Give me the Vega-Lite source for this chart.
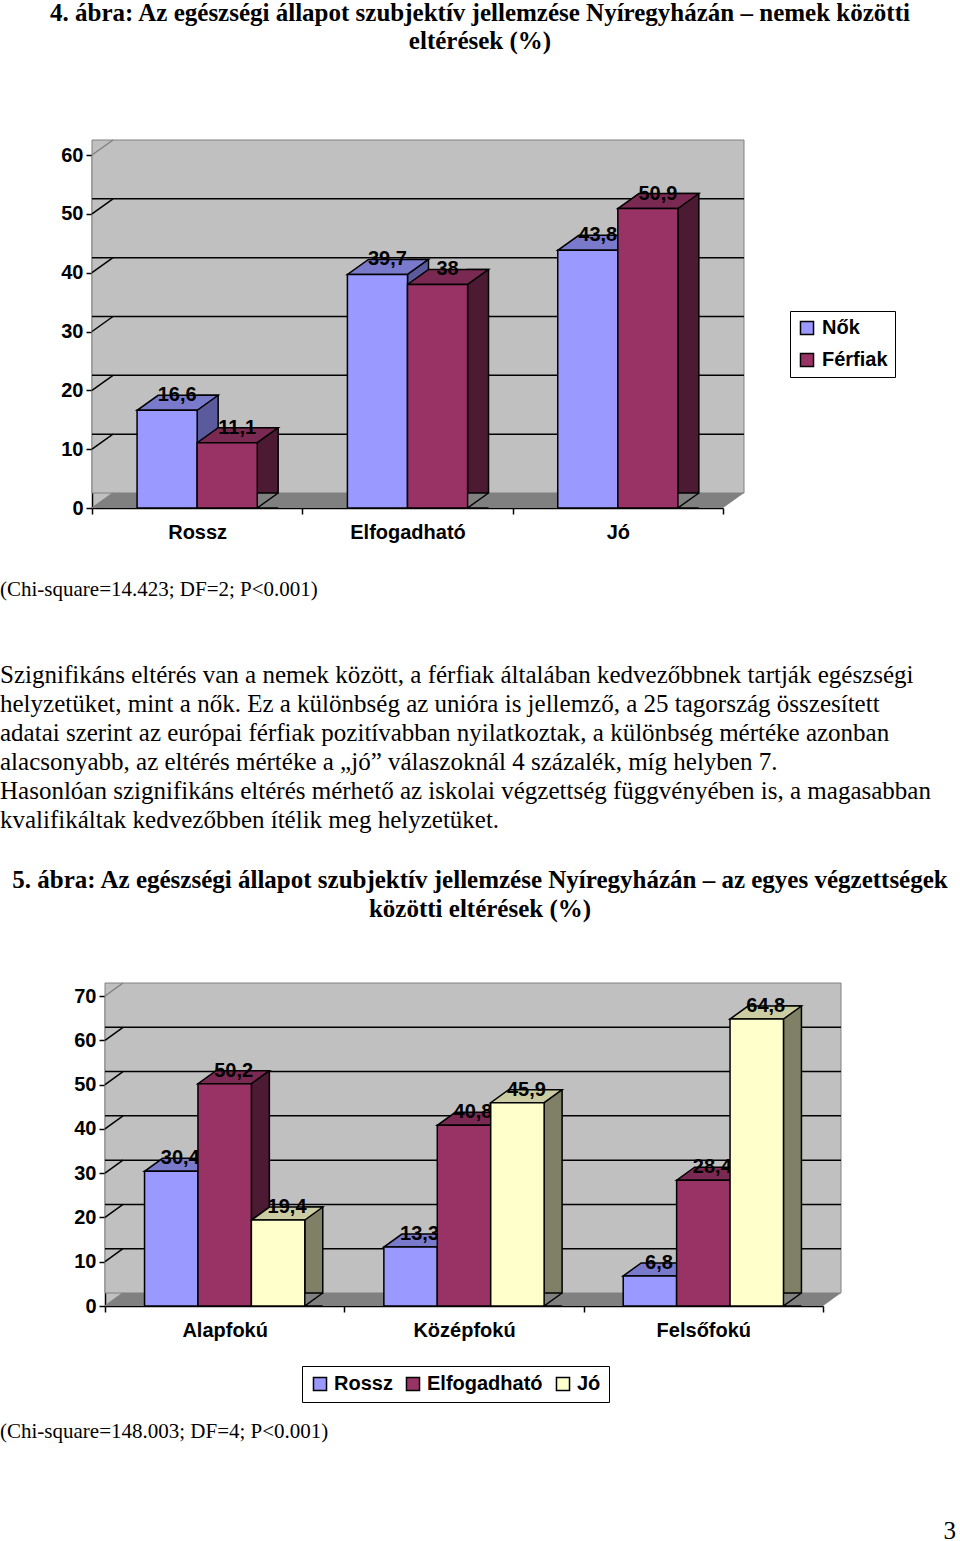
{
  "$schema": "https://vega.github.io/schema/vega-lite/v6.json",
  "background": "white",
  "padding": 0,
  "spacing": 0,
  "bounds": "full",
  "align": "none",
  "resolve": {"scale": {"color": "independent", "xOffset": "independent"}, "legend": {"color": "independent"}},
  "config": {
    "font": "Liberation Sans",
    "view": {"stroke": null},
    "locale": {"number": {"decimal": ",", "thousands": " ", "grouping": [3], "currency": ["", ""]}},
    "axis": {"labelFont": "Liberation Sans", "labelFontSize": 20, "labelFontWeight": "bold", "labelColor": "black", "tickColor": "black", "tickWidth": 1.5, "tickSize": 6, "domainColor": "black", "domainWidth": 1.5, "grid": false},
    "axisX": {"labelAngle": 0, "labelPadding": 8, "tickBand": "extent"},
    "axisY": {"labelPadding": 3}
  },
  "vconcat": [
    {
      "width": 960, "height": 54,
      "data": {"values": [
        {"line": 1, "text": "4. ábra: Az egészségi állapot szubjektív jellemzése Nyíregyházán – nemek közötti"},
        {"line": 2, "text": "eltérések (%)"}
      ]},
      "mark": {"type": "text", "font": "Liberation Serif", "fontSize": 25, "fontWeight": "bold", "baseline": "middle", "align": "center", "color": "black"},
      "encoding": {"y": {"field": "line", "type": "ordinal", "axis": null, "scale": {"padding": 0.4643}}, "text": {"field": "text"}}
    },
    {"width": 960, "height": 82.25, "data": {"values": []}, "mark": "text"},
    {
      "hconcat": [
        {"width": 92, "height": 420, "data": {"values": []}, "mark": "text"},
        {
          "width": 631, "height": 353,
          "view": {"fill": "#c0c0c0", "stroke": null},
          "data": {"values": [
            {"cat": "Rossz", "ser": "Nők", "v": 16.6},
            {"cat": "Rossz", "ser": "Férfiak", "v": 11.1},
            {"cat": "Elfogadható", "ser": "Nők", "v": 39.7},
            {"cat": "Elfogadható", "ser": "Férfiak", "v": 38},
            {"cat": "Jó", "ser": "Nők", "v": 43.8},
            {"cat": "Jó", "ser": "Férfiak", "v": 50.9}
          ]},
          "layer": [
            {
              "data": {"values": [{}]},
              "mark": {"type": "rect", "fill": "#c0c0c0", "stroke": "#808080", "strokeWidth": 1, "xOffset": 21, "x2Offset": 21, "yOffset": -15, "y2Offset": -15},
              "encoding": {
                "y": {"datum": 0, "type": "quantitative", "scale": {"domain": [0, 60], "nice": false}, "axis": {"title": null, "values": [0, 10, 20, 30, 40, 50, 60]}},
                "y2": {"datum": 60}
              }
            },
            {
              "data": {"values": [{"g": 10}, {"g": 20}, {"g": 30}, {"g": 40}, {"g": 50}]},
              "mark": {"type": "rule", "color": "black", "strokeWidth": 1.5, "xOffset": 21, "x2Offset": 21, "yOffset": -15, "y2Offset": -15},
              "encoding": {"y": {"field": "g", "type": "quantitative", "scale": {"domain": [0, 60], "nice": false}, "title": null}}
            },
            {
              "data": {"values": [{"g": 0}, {"g": 10}, {"g": 20}, {"g": 30}, {"g": 40}, {"g": 50}, {"g": 60}]},
              "mark": {"type": "point", "shape": "M0,0L21,-15", "size": 4, "filled": false, "opacity": 1, "strokeWidth": 1.5},
              "encoding": {
                "x": {"datum": "Rossz", "type": "nominal", "bandPosition": 0, "scale": {"domain": ["Rossz", "Elfogadható", "Jó"], "paddingInner": 0, "paddingOuter": 0}, "title": null},
                "y": {"field": "g", "type": "quantitative", "scale": {"domain": [0, 60], "nice": false}, "title": null},
                "stroke": {"condition": {"test": "datum.g % 60 === 0", "value": "#808080"}, "value": "black"}
              }
            },
            {
              "data": {"values": [{}]},
              "mark": {"type": "point", "shape": "M0,0L631,0L652,-15L21,-15Z", "size": 4, "filled": true, "opacity": 1, "fill": "#808080", "strokeWidth": 0},
              "encoding": {
                "x": {"datum": "Rossz", "type": "nominal", "bandPosition": 0, "scale": {"domain": ["Rossz", "Elfogadható", "Jó"], "paddingInner": 0, "paddingOuter": 0}, "title": null},
                "y": {"datum": 0, "type": "quantitative", "scale": {"domain": [0, 60], "nice": false}, "title": null}
              }
            },
            {
              "transform": [{"filter": "datum.ser === 'Nők'"}],
              "mark": {"type": "bar", "width": 21, "xOffset": 10.5, "yOffset": -15, "fill": "#5a5a9c", "stroke": "black", "strokeWidth": 1.5},
              "encoding": {
                "x": {"field": "cat", "type": "nominal", "scale": {"domain": ["Rossz", "Elfogadható", "Jó"], "paddingInner": 0, "paddingOuter": 0}, "title": null},
                "y": {"field": "v", "type": "quantitative", "scale": {"domain": [0, 60], "nice": false}, "title": null}
              }
            },
            {
              "transform": [{"filter": "datum.ser === 'Férfiak'"}],
              "mark": {"type": "bar", "width": 21, "xOffset": 70.5, "yOffset": -15, "fill": "#4d1a33", "stroke": "black", "strokeWidth": 1.5},
              "encoding": {
                "x": {"field": "cat", "type": "nominal", "scale": {"domain": ["Rossz", "Elfogadható", "Jó"], "paddingInner": 0, "paddingOuter": 0}, "title": null},
                "y": {"field": "v", "type": "quantitative", "scale": {"domain": [0, 60], "nice": false}, "title": null}
              }
            },
            {
              "transform": [{"filter": "datum.ser === 'Férfiak'"}],
              "mark": {"type": "point", "shape": "M51,0L30,0L51,-15", "size": 4, "filled": true, "opacity": 1, "fill": "#808080", "stroke": "black", "strokeWidth": 1.5},
              "encoding": {
                "x": {"field": "cat", "type": "nominal", "scale": {"domain": ["Rossz", "Elfogadható", "Jó"], "paddingInner": 0, "paddingOuter": 0}, "title": null},
                "xOffset": {"field": "ser", "type": "nominal", "scale": {"domain": ["Nők", "Férfiak"], "paddingInner": 0, "paddingOuter": 0.75}},
                "y": {"datum": 0, "type": "quantitative", "scale": {"domain": [0, 60], "nice": false}, "title": null}
              }
            },
            {
              "mark": {"type": "point", "shape": "M-30,0L30,0L51,-15L-9,-15Z", "size": 4, "filled": true, "opacity": 1, "stroke": "black", "strokeWidth": 1.5},
              "encoding": {
                "x": {"field": "cat", "type": "nominal", "scale": {"domain": ["Rossz", "Elfogadható", "Jó"], "paddingInner": 0, "paddingOuter": 0}, "title": null},
                "xOffset": {"field": "ser", "type": "nominal", "scale": {"domain": ["Nők", "Férfiak"], "paddingInner": 0, "paddingOuter": 0.75}},
                "y": {"field": "v", "type": "quantitative", "scale": {"domain": [0, 60], "nice": false}, "title": null},
                "fill": {"condition": {"test": "datum.ser === 'Nők'", "value": "#7a7acc"}, "value": "#7a2952"}
              }
            },
            {
              "mark": {"type": "text", "font": "Liberation Sans", "fontSize": 20, "fontWeight": "bold", "dx": 10, "dy": -15, "baseline": "middle", "color": "black"},
              "encoding": {
                "x": {"field": "cat", "type": "nominal", "scale": {"domain": ["Rossz", "Elfogadható", "Jó"], "paddingInner": 0, "paddingOuter": 0}, "title": null},
                "xOffset": {"field": "ser", "type": "nominal", "scale": {"domain": ["Nők", "Férfiak"], "paddingInner": 0, "paddingOuter": 0.75}},
                "y": {"field": "v", "type": "quantitative", "scale": {"domain": [0, 60], "nice": false}, "title": null},
                "text": {"field": "v", "type": "quantitative", "format": ".3~r"}
              }
            },
            {
              "mark": {"type": "bar", "stroke": "black", "strokeWidth": 1.5},
              "encoding": {
                "x": {"field": "cat", "type": "nominal", "scale": {"domain": ["Rossz", "Elfogadható", "Jó"], "paddingInner": 0, "paddingOuter": 0}, "title": null},
                "xOffset": {"field": "ser", "type": "nominal", "scale": {"domain": ["Nők", "Férfiak"], "paddingInner": 0, "paddingOuter": 0.75}},
                "y": {"field": "v", "type": "quantitative", "scale": {"domain": [0, 60], "nice": false}, "title": null},
                "color": {
                  "field": "ser", "type": "nominal",
                  "scale": {"domain": ["Nők", "Férfiak"], "range": ["#9999ff", "#993366"]},
                  "legend": {"title": null, "orient": "none", "direction": "vertical", "legendX": 790, "legendY": 156, "symbolType": "square", "symbolSize": 170, "symbolStrokeColor": "black", "symbolStrokeWidth": 1.5, "symbolOpacity": 1, "labelFont": "Liberation Sans", "labelFontSize": 20, "labelFontWeight": "bold", "labelColor": "black", "labelOffset": 5, "strokeColor": "black", "fillColor": "white", "padding": 7, "rowPadding": 12}
                }
              }
            }
          ]
        }
      ],
      "spacing": 0,
      "bounds": "flush"
    },
    {
      "width": 960, "height": 30,
      "data": {"values": [{"line": 1, "text": "(Chi-square=14.423; DF=2; P<0.001)"}]},
      "mark": {"type": "text", "font": "Liberation Serif", "fontSize": 21, "baseline": "middle", "align": "left", "color": "black"},
      "encoding": {
        "x": {"datum": 0, "type": "quantitative", "scale": {"domain": [0, 1]}, "axis": null},
        "y": {"field": "line", "type": "ordinal", "axis": null},
        "text": {"field": "text"}
      }
    },
    {"width": 960, "height": 54.5, "data": {"values": []}, "mark": "text"},
    {
      "width": 960, "height": 175,
      "data": {"values": [
        {"line": 1, "text": "Szignifikáns eltérés van a nemek között, a férfiak általában kedvezőbbnek tartják egészségi"},
        {"line": 2, "text": "helyzetüket, mint a nők. Ez a különbség az unióra is jellemző, a 25 tagország összesített"},
        {"line": 3, "text": "adatai szerint az európai férfiak pozitívabban nyilatkoztak, a különbség mértéke azonban"},
        {"line": 4, "text": "alacsonyabb, az eltérés mértéke a „jó” válaszoknál 4 százalék, míg helyben 7."},
        {"line": 5, "text": "Hasonlóan szignifikáns eltérés mérhető az iskolai végzettség függvényében is, a magasabban"},
        {"line": 6, "text": "kvalifikáltak kedvezőbben ítélik meg helyzetüket."}
      ]},
      "mark": {"type": "text", "font": "Liberation Serif", "fontSize": 25, "baseline": "middle", "align": "left", "color": "black"},
      "encoding": {
        "x": {"datum": 0, "type": "quantitative", "scale": {"domain": [0, 1]}, "axis": null},
        "y": {"field": "line", "type": "ordinal", "axis": null},
        "text": {"field": "text"}
      }
    },
    {"width": 960, "height": 30, "data": {"values": []}, "mark": "text"},
    {
      "width": 960, "height": 58,
      "data": {"values": [
        {"line": 1, "text": "5. ábra: Az egészségi állapot szubjektív jellemzése Nyíregyházán – az egyes végzettségek"},
        {"line": 2, "text": "közötti eltérések (%)"}
      ]},
      "mark": {"type": "text", "font": "Liberation Serif", "fontSize": 25, "fontWeight": "bold", "baseline": "middle", "align": "center", "color": "black"},
      "encoding": {"y": {"field": "line", "type": "ordinal", "axis": null}, "text": {"field": "text"}}
    },
    {"width": 960, "height": 56.25, "data": {"values": []}, "mark": "text"},
    {
      "hconcat": [
        {"width": 105, "height": 421, "data": {"values": []}, "mark": "text"},
        {
          "width": 718, "height": 310,
          "view": {"fill": "#c0c0c0", "stroke": null},
          "data": {"values": [
            {"cat": "Alapfokú", "ser": "Rossz", "v": 30.4},
            {"cat": "Alapfokú", "ser": "Elfogadható", "v": 50.2},
            {"cat": "Alapfokú", "ser": "Jó", "v": 19.4},
            {"cat": "Középfokú", "ser": "Rossz", "v": 13.3},
            {"cat": "Középfokú", "ser": "Elfogadható", "v": 40.8},
            {"cat": "Középfokú", "ser": "Jó", "v": 45.9},
            {"cat": "Felsőfokú", "ser": "Rossz", "v": 6.8},
            {"cat": "Felsőfokú", "ser": "Elfogadható", "v": 28.4},
            {"cat": "Felsőfokú", "ser": "Jó", "v": 64.8}
          ]},
          "layer": [
            {
              "data": {"values": [{}]},
              "mark": {"type": "rect", "fill": "#c0c0c0", "stroke": "#808080", "strokeWidth": 1, "xOffset": 18, "x2Offset": 18, "yOffset": -13, "y2Offset": -13},
              "encoding": {
                "y": {"datum": 0, "type": "quantitative", "scale": {"domain": [0, 70], "nice": false}, "axis": {"title": null, "values": [0, 10, 20, 30, 40, 50, 60, 70]}},
                "y2": {"datum": 70}
              }
            },
            {
              "data": {"values": [{"g": 10}, {"g": 20}, {"g": 30}, {"g": 40}, {"g": 50}, {"g": 60}]},
              "mark": {"type": "rule", "color": "black", "strokeWidth": 1.5, "xOffset": 18, "x2Offset": 18, "yOffset": -13, "y2Offset": -13},
              "encoding": {"y": {"field": "g", "type": "quantitative", "scale": {"domain": [0, 70], "nice": false}, "title": null}}
            },
            {
              "data": {"values": [{"g": 0}, {"g": 10}, {"g": 20}, {"g": 30}, {"g": 40}, {"g": 50}, {"g": 60}, {"g": 70}]},
              "mark": {"type": "point", "shape": "M0,0L18,-13", "size": 4, "filled": false, "opacity": 1, "strokeWidth": 1.5},
              "encoding": {
                "x": {"datum": "Alapfokú", "type": "nominal", "bandPosition": 0, "scale": {"domain": ["Alapfokú", "Középfokú", "Felsőfokú"], "paddingInner": 0, "paddingOuter": 0}, "title": null},
                "y": {"field": "g", "type": "quantitative", "scale": {"domain": [0, 70], "nice": false}, "title": null},
                "stroke": {"condition": {"test": "datum.g % 70 === 0", "value": "#808080"}, "value": "black"}
              }
            },
            {
              "data": {"values": [{}]},
              "mark": {"type": "point", "shape": "M0,0L718,0L736,-13L18,-13Z", "size": 4, "filled": true, "opacity": 1, "fill": "#808080", "strokeWidth": 0},
              "encoding": {
                "x": {"datum": "Alapfokú", "type": "nominal", "bandPosition": 0, "scale": {"domain": ["Alapfokú", "Középfokú", "Felsőfokú"], "paddingInner": 0, "paddingOuter": 0}, "title": null},
                "y": {"datum": 0, "type": "quantitative", "scale": {"domain": [0, 70], "nice": false}, "title": null}
              }
            },
            {
              "transform": [{"filter": "datum.ser === 'Rossz'"}],
              "mark": {"type": "bar", "width": 18, "xOffset": -17.7, "yOffset": -13, "fill": "#5a5a9c", "stroke": "black", "strokeWidth": 1.5},
              "encoding": {
                "x": {"field": "cat", "type": "nominal", "scale": {"domain": ["Alapfokú", "Középfokú", "Felsőfokú"], "paddingInner": 0, "paddingOuter": 0}, "title": null},
                "y": {"field": "v", "type": "quantitative", "scale": {"domain": [0, 70], "nice": false}, "title": null}
              }
            },
            {
              "transform": [{"filter": "datum.ser === 'Elfogadható'"}],
              "mark": {"type": "bar", "width": 18, "xOffset": 35.7, "yOffset": -13, "fill": "#4d1a33", "stroke": "black", "strokeWidth": 1.5},
              "encoding": {
                "x": {"field": "cat", "type": "nominal", "scale": {"domain": ["Alapfokú", "Középfokú", "Felsőfokú"], "paddingInner": 0, "paddingOuter": 0}, "title": null},
                "y": {"field": "v", "type": "quantitative", "scale": {"domain": [0, 70], "nice": false}, "title": null}
              }
            },
            {
              "transform": [{"filter": "datum.ser === 'Jó'"}],
              "mark": {"type": "bar", "width": 18, "xOffset": 89.1, "yOffset": -13, "fill": "#808066", "stroke": "black", "strokeWidth": 1.5},
              "encoding": {
                "x": {"field": "cat", "type": "nominal", "scale": {"domain": ["Alapfokú", "Középfokú", "Felsőfokú"], "paddingInner": 0, "paddingOuter": 0}, "title": null},
                "y": {"field": "v", "type": "quantitative", "scale": {"domain": [0, 70], "nice": false}, "title": null}
              }
            },
            {
              "transform": [{"filter": "datum.ser === 'Jó'"}],
              "mark": {"type": "point", "shape": "M44.7,0L26.7,0L44.7,-13", "size": 4, "filled": true, "opacity": 1, "fill": "#808080", "stroke": "black", "strokeWidth": 1.5},
              "encoding": {
                "x": {"field": "cat", "type": "nominal", "scale": {"domain": ["Alapfokú", "Középfokú", "Felsőfokú"], "paddingInner": 0, "paddingOuter": 0}, "title": null},
                "xOffset": {"field": "ser", "type": "nominal", "scale": {"domain": ["Rossz", "Elfogadható", "Jó"], "paddingInner": 0, "paddingOuter": 0.74}},
                "y": {"datum": 0, "type": "quantitative", "scale": {"domain": [0, 70], "nice": false}, "title": null}
              }
            },
            {
              "mark": {"type": "point", "shape": "M-26.7,0L26.7,0L44.7,-13L-8.7,-13Z", "size": 4, "filled": true, "opacity": 1, "stroke": "black", "strokeWidth": 1.5},
              "encoding": {
                "x": {"field": "cat", "type": "nominal", "scale": {"domain": ["Alapfokú", "Középfokú", "Felsőfokú"], "paddingInner": 0, "paddingOuter": 0}, "title": null},
                "xOffset": {"field": "ser", "type": "nominal", "scale": {"domain": ["Rossz", "Elfogadható", "Jó"], "paddingInner": 0, "paddingOuter": 0.74}},
                "y": {"field": "v", "type": "quantitative", "scale": {"domain": [0, 70], "nice": false}, "title": null},
                "fill": {"condition": [{"test": "datum.ser === 'Rossz'", "value": "#7a7acc"}, {"test": "datum.ser === 'Elfogadható'", "value": "#7a2952"}], "value": "#cccca3"}
              }
            },
            {
              "mark": {"type": "text", "font": "Liberation Sans", "fontSize": 20, "fontWeight": "bold", "dx": 9, "dy": -13, "baseline": "middle", "color": "black"},
              "encoding": {
                "x": {"field": "cat", "type": "nominal", "scale": {"domain": ["Alapfokú", "Középfokú", "Felsőfokú"], "paddingInner": 0, "paddingOuter": 0}, "title": null},
                "xOffset": {"field": "ser", "type": "nominal", "scale": {"domain": ["Rossz", "Elfogadható", "Jó"], "paddingInner": 0, "paddingOuter": 0.74}},
                "y": {"field": "v", "type": "quantitative", "scale": {"domain": [0, 70], "nice": false}, "title": null},
                "text": {"field": "v", "type": "quantitative", "format": ".3~r"}
              }
            },
            {
              "mark": {"type": "bar", "stroke": "black", "strokeWidth": 1.5},
              "encoding": {
                "x": {"field": "cat", "type": "nominal", "scale": {"domain": ["Alapfokú", "Középfokú", "Felsőfokú"], "paddingInner": 0, "paddingOuter": 0}, "title": null},
                "xOffset": {"field": "ser", "type": "nominal", "scale": {"domain": ["Rossz", "Elfogadható", "Jó"], "paddingInner": 0, "paddingOuter": 0.74}},
                "y": {"field": "v", "type": "quantitative", "scale": {"domain": [0, 70], "nice": false}, "title": null},
                "color": {
                  "field": "ser", "type": "nominal",
                  "scale": {"domain": ["Rossz", "Elfogadható", "Jó"], "range": ["#9999ff", "#993366", "#ffffcc"]},
                  "legend": {"title": null, "orient": "none", "direction": "horizontal", "legendX": 302, "legendY": 370, "symbolType": "square", "symbolSize": 170, "symbolStrokeColor": "black", "symbolStrokeWidth": 1.5, "symbolOpacity": 1, "labelFont": "Liberation Sans", "labelFontSize": 20, "labelFontWeight": "bold", "labelColor": "black", "labelOffset": 4, "columnPadding": 10, "strokeColor": "black", "fillColor": "white", "padding": 8}
                }
              }
            }
          ]
        }
      ],
      "spacing": 0,
      "bounds": "flush"
    },
    {
      "width": 960, "height": 30,
      "data": {"values": [{"line": 1, "text": "(Chi-square=148.003; DF=4; P<0.001)"}]},
      "mark": {"type": "text", "font": "Liberation Serif", "fontSize": 21, "baseline": "middle", "align": "left", "color": "black"},
      "encoding": {
        "x": {"datum": 0, "type": "quantitative", "scale": {"domain": [0, 1]}, "axis": null},
        "y": {"field": "line", "type": "ordinal", "axis": null},
        "text": {"field": "text"}
      }
    },
    {"width": 960, "height": 72, "data": {"values": []}, "mark": "text"},
    {
      "width": 960, "height": 24,
      "data": {"values": [{"line": 1, "text": "3"}]},
      "mark": {"type": "text", "font": "Liberation Serif", "fontSize": 25, "baseline": "middle", "align": "right", "dx": -4, "color": "black"},
      "encoding": {
        "x": {"datum": 1, "type": "quantitative", "scale": {"domain": [0, 1]}, "axis": null},
        "y": {"field": "line", "type": "ordinal", "axis": null},
        "text": {"field": "text"}
      }
    }
  ]
}
